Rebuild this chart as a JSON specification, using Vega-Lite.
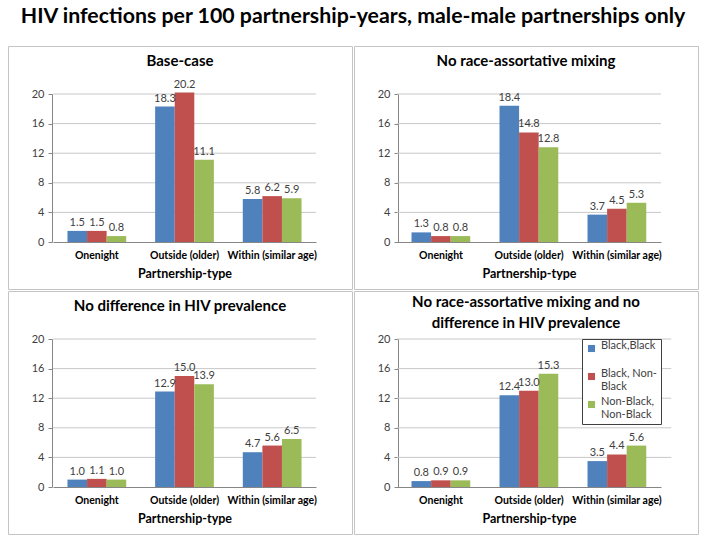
{
  "$schema": "https://vega.github.io/schema/vega-lite/v6.json",
  "padding": {"top": 6, "left": 7, "right": 0, "bottom": 0},
  "background": "white",
  "title": {"text": "HIV infections per 100 partnership-years, male-male partnerships only", "fontSize": 21.3, "font": "Lato", "fontWeight": "bold", "color": "#000000", "anchor": "middle", "offset": 18},
  "datasets": {
    "grid": [{"g": 4}, {"g": 8}, {"g": 12}, {"g": 16}, {"g": 20}],
    "rates": [
      {"scenario": "A", "type": "Onenight", "pair": "Black,Black", "value": 1.5},
      {"scenario": "A", "type": "Onenight", "pair": "Black, Non-Black", "value": 1.5},
      {"scenario": "A", "type": "Onenight", "pair": "Non-Black, Non-Black", "value": 0.8},
      {"scenario": "A", "type": "Outside (older)", "pair": "Black,Black", "value": 18.3},
      {"scenario": "A", "type": "Outside (older)", "pair": "Black, Non-Black", "value": 20.2},
      {"scenario": "A", "type": "Outside (older)", "pair": "Non-Black, Non-Black", "value": 11.1},
      {"scenario": "A", "type": "Within (similar age)", "pair": "Black,Black", "value": 5.8},
      {"scenario": "A", "type": "Within (similar age)", "pair": "Black, Non-Black", "value": 6.2},
      {"scenario": "A", "type": "Within (similar age)", "pair": "Non-Black, Non-Black", "value": 5.9},
      {"scenario": "B", "type": "Onenight", "pair": "Black,Black", "value": 1.3},
      {"scenario": "B", "type": "Onenight", "pair": "Black, Non-Black", "value": 0.8},
      {"scenario": "B", "type": "Onenight", "pair": "Non-Black, Non-Black", "value": 0.8},
      {"scenario": "B", "type": "Outside (older)", "pair": "Black,Black", "value": 18.4},
      {"scenario": "B", "type": "Outside (older)", "pair": "Black, Non-Black", "value": 14.8},
      {"scenario": "B", "type": "Outside (older)", "pair": "Non-Black, Non-Black", "value": 12.8},
      {"scenario": "B", "type": "Within (similar age)", "pair": "Black,Black", "value": 3.7},
      {"scenario": "B", "type": "Within (similar age)", "pair": "Black, Non-Black", "value": 4.5},
      {"scenario": "B", "type": "Within (similar age)", "pair": "Non-Black, Non-Black", "value": 5.3},
      {"scenario": "C", "type": "Onenight", "pair": "Black,Black", "value": 1.0},
      {"scenario": "C", "type": "Onenight", "pair": "Black, Non-Black", "value": 1.1},
      {"scenario": "C", "type": "Onenight", "pair": "Non-Black, Non-Black", "value": 1.0},
      {"scenario": "C", "type": "Outside (older)", "pair": "Black,Black", "value": 12.9},
      {"scenario": "C", "type": "Outside (older)", "pair": "Black, Non-Black", "value": 15.0},
      {"scenario": "C", "type": "Outside (older)", "pair": "Non-Black, Non-Black", "value": 13.9},
      {"scenario": "C", "type": "Within (similar age)", "pair": "Black,Black", "value": 4.7},
      {"scenario": "C", "type": "Within (similar age)", "pair": "Black, Non-Black", "value": 5.6},
      {"scenario": "C", "type": "Within (similar age)", "pair": "Non-Black, Non-Black", "value": 6.5},
      {"scenario": "D", "type": "Onenight", "pair": "Black,Black", "value": 0.8},
      {"scenario": "D", "type": "Onenight", "pair": "Black, Non-Black", "value": 0.9},
      {"scenario": "D", "type": "Onenight", "pair": "Non-Black, Non-Black", "value": 0.9},
      {"scenario": "D", "type": "Outside (older)", "pair": "Black,Black", "value": 12.4},
      {"scenario": "D", "type": "Outside (older)", "pair": "Black, Non-Black", "value": 13.0},
      {"scenario": "D", "type": "Outside (older)", "pair": "Non-Black, Non-Black", "value": 15.3},
      {"scenario": "D", "type": "Within (similar age)", "pair": "Black,Black", "value": 3.5},
      {"scenario": "D", "type": "Within (similar age)", "pair": "Black, Non-Black", "value": 4.4},
      {"scenario": "D", "type": "Within (similar age)", "pair": "Non-Black, Non-Black", "value": 5.6}
    ]
  },
  "columns": 2,
  "spacing": 0,
  "resolve": {"legend": {"color": "independent"}},
  "concat": [
    {
      "title": {"text": "Base-case", "offset": -23},
      "width": 344, "height": 243,
      "layer": [
        {"data": {"name": "grid"}, "mark": {"type": "rule", "color": "#c8c8c8"}, "encoding": {
          "y": {"field": "g", "type": "quantitative", "title": null, "axis": {"values": [0, 4, 8, 12, 16, 20]}, "scale": {"domain": [0, 20], "range": [196, 48], "nice": false}},
          "x": {"datum": "Onenight", "type": "nominal", "bandPosition": -0.246, "title": "Partnership-type", "scale": {"range": [45, 308], "paddingInner": 0.33, "paddingOuter": 0.165}},
          "x2": {"datum": "Within (similar age)", "bandPosition": 1.246}}},
        {"data": {"name": "rates"}, "transform": [{"filter": "datum.scenario == 'A'"}],
          "encoding": {
            "x": {"field": "type", "type": "nominal", "title": "Partnership-type"},
            "xOffset": {"field": "pair", "type": "nominal", "sort": ["Black,Black", "Black, Non-Black", "Non-Black, Non-Black"]},
            "y": {"field": "value", "type": "quantitative", "title": null, "axis": {"values": [0, 4, 8, 12, 16, 20]}}
          },
          "layer": [
            {"mark": "bar", "encoding": {"color": {"field": "pair", "type": "nominal", "scale": {"domain": ["Black,Black", "Black, Non-Black", "Non-Black, Non-Black"], "range": ["#4F81BD", "#C0504D", "#9BBB59"]}, "legend": null}}},
            {"mark": {"type": "text", "baseline": "bottom", "dy": -3, "fontSize": 11, "color": "#404040"}, "encoding": {"text": {"field": "value", "type": "quantitative", "format": ".1f"}}}
          ]}
      ]
    },
    {
      "title": {"text": "No race-assortative mixing", "offset": -23},
      "width": 344, "height": 243,
      "layer": [
        {"data": {"name": "grid"}, "mark": {"type": "rule", "color": "#c8c8c8"}, "encoding": {
          "y": {"field": "g", "type": "quantitative", "title": null, "axis": {"values": [0, 4, 8, 12, 16, 20]}, "scale": {"domain": [0, 20], "range": [196, 48], "nice": false}},
          "x": {"datum": "Onenight", "type": "nominal", "bandPosition": -0.246, "title": "Partnership-type", "scale": {"range": [43, 307], "paddingInner": 0.33, "paddingOuter": 0.165}},
          "x2": {"datum": "Within (similar age)", "bandPosition": 1.246}}},
        {"data": {"name": "rates"}, "transform": [{"filter": "datum.scenario == 'B'"}],
          "encoding": {
            "x": {"field": "type", "type": "nominal", "title": "Partnership-type"},
            "xOffset": {"field": "pair", "type": "nominal", "sort": ["Black,Black", "Black, Non-Black", "Non-Black, Non-Black"]},
            "y": {"field": "value", "type": "quantitative", "title": null, "axis": {"values": [0, 4, 8, 12, 16, 20]}}
          },
          "layer": [
            {"mark": "bar", "encoding": {"color": {"field": "pair", "type": "nominal", "scale": {"domain": ["Black,Black", "Black, Non-Black", "Non-Black, Non-Black"], "range": ["#4F81BD", "#C0504D", "#9BBB59"]}, "legend": null}}},
            {"mark": {"type": "text", "baseline": "bottom", "dy": -3, "fontSize": 11, "color": "#404040"}, "encoding": {"text": {"field": "value", "type": "quantitative", "format": ".1f"}}}
          ]}
      ]
    },
    {
      "title": {"text": "No difference in HIV prevalence", "offset": -23},
      "width": 344, "height": 243,
      "layer": [
        {"data": {"name": "grid"}, "mark": {"type": "rule", "color": "#c8c8c8"}, "encoding": {
          "y": {"field": "g", "type": "quantitative", "title": null, "axis": {"values": [0, 4, 8, 12, 16, 20]}, "scale": {"domain": [0, 20], "range": [196, 48], "nice": false}},
          "x": {"datum": "Onenight", "type": "nominal", "bandPosition": -0.246, "title": "Partnership-type", "scale": {"range": [45, 308], "paddingInner": 0.33, "paddingOuter": 0.165}},
          "x2": {"datum": "Within (similar age)", "bandPosition": 1.246}}},
        {"data": {"name": "rates"}, "transform": [{"filter": "datum.scenario == 'C'"}],
          "encoding": {
            "x": {"field": "type", "type": "nominal", "title": "Partnership-type"},
            "xOffset": {"field": "pair", "type": "nominal", "sort": ["Black,Black", "Black, Non-Black", "Non-Black, Non-Black"]},
            "y": {"field": "value", "type": "quantitative", "title": null, "axis": {"values": [0, 4, 8, 12, 16, 20]}}
          },
          "layer": [
            {"mark": "bar", "encoding": {"color": {"field": "pair", "type": "nominal", "scale": {"domain": ["Black,Black", "Black, Non-Black", "Non-Black, Non-Black"], "range": ["#4F81BD", "#C0504D", "#9BBB59"]}, "legend": null}}},
            {"mark": {"type": "text", "baseline": "bottom", "dy": -3, "fontSize": 11, "color": "#404040"}, "encoding": {"text": {"field": "value", "type": "quantitative", "format": ".1f"}}}
          ]}
      ]
    },
    {
      "title": {"text": ["No race-assortative mixing and no", "difference in HIV prevalence"], "offset": -40, "lineHeight": 21},
      "width": 344, "height": 243,
      "layer": [
        {"data": {"name": "grid"}, "mark": {"type": "rule", "color": "#c8c8c8"}, "encoding": {
          "y": {"field": "g", "type": "quantitative", "title": null, "axis": {"values": [0, 4, 8, 12, 16, 20]}, "scale": {"domain": [0, 20], "range": [196, 48], "nice": false}},
          "x": {"datum": "Onenight", "type": "nominal", "bandPosition": -0.246, "title": "Partnership-type", "scale": {"range": [43, 307], "paddingInner": 0.33, "paddingOuter": 0.165}},
          "x2": {"datum": "Within (similar age)", "bandPosition": 1.42}}},
        {"data": {"name": "rates"}, "transform": [{"filter": "datum.scenario == 'D'"}],
          "encoding": {
            "x": {"field": "type", "type": "nominal", "title": "Partnership-type"},
            "xOffset": {"field": "pair", "type": "nominal", "sort": ["Black,Black", "Black, Non-Black", "Non-Black, Non-Black"]},
            "y": {"field": "value", "type": "quantitative", "title": null, "axis": {"values": [0, 4, 8, 12, 16, 20]}}
          },
          "layer": [
            {"mark": "bar", "encoding": {"color": {"field": "pair", "type": "nominal", "title": null, "scale": {"domain": ["Black,Black", "Black, Non-Black", "Non-Black, Non-Black"], "range": ["#4F81BD", "#C0504D", "#9BBB59"]}, "legend": {"orient": "none", "legendX": 228, "legendY": 48, "labelExpr": "datum.label == 'Black,Black' ? ['Black,Black', ''] : datum.label == 'Black, Non-Black' ? ['Black, Non-', 'Black'] : ['Non-Black,', 'Non-Black']"}}}},
            {"mark": {"type": "text", "baseline": "bottom", "dy": -3, "fontSize": 11, "color": "#404040"}, "encoding": {"text": {"field": "value", "type": "quantitative", "format": ".1f"}}}
          ]}
      ]
    }
  ],
  "config": {
    "font": "Lato",
    "view": {"stroke": "#c4c4c4", "strokeWidth": 1},
    "title": {"fontSize": 15, "fontWeight": "bold", "color": "#000000", "baseline": "middle", "anchor": "middle", "font": "Lato"},
    "bar": {"stroke": null},
    "axisY": {"offset": -44, "grid": false, "domainColor": "#868686", "tickColor": "#868686", "tickSize": 4, "labelFontSize": 11, "labelColor": "#404040", "labelPadding": 4},
    "axisX": {"offset": -47, "grid": false, "ticks": false, "domainColor": "#868686", "labelAngle": 0, "labelFontSize": 10.5, "labelFontWeight": "bold", "labelColor": "#000000", "labelPadding": 8, "titleFontSize": 12.5, "titleFontWeight": "bold", "titleColor": "#000000", "titlePadding": 7},
    "legend": {"strokeColor": "#404040", "padding": 4, "symbolType": "square", "symbolSize": 50, "symbolStrokeWidth": 0, "labelFontSize": 11, "labelColor": "#404040", "rowPadding": 3, "labelBaseline": "alphabetic", "fillColor": "white"}
  }
}
